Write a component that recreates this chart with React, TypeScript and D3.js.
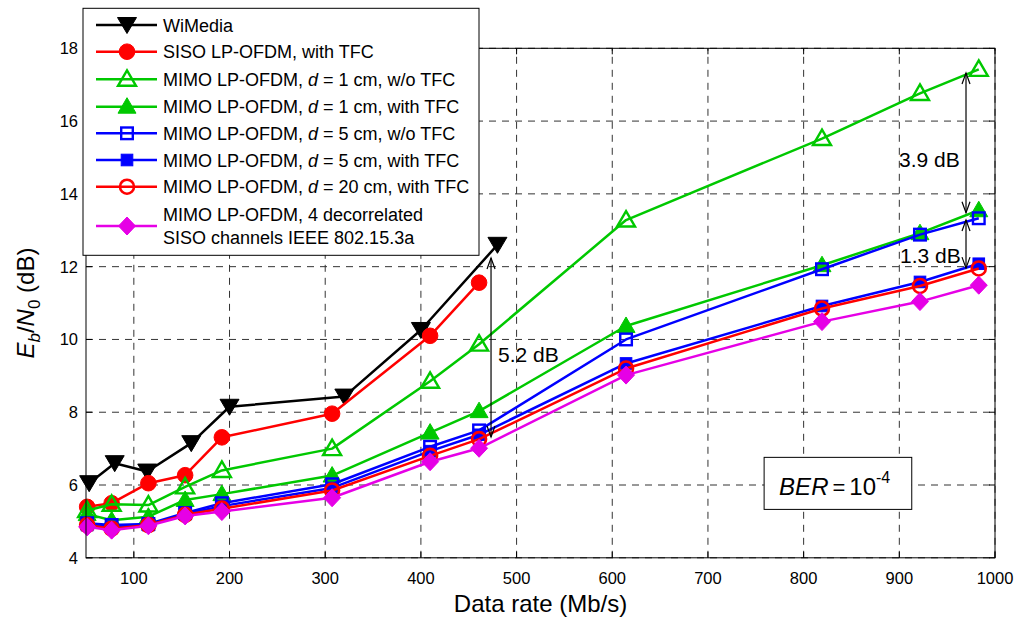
import React from "react";
import * as d3 from "d3";

const wimediaRates = [53.3, 80, 114, 160, 200, 320, 400, 480];
const wimedia = [6.05, 6.6, 6.37, 7.15, 8.15, 8.43, 10.26, 12.6];

const sisoRates = [51.2, 76.8, 115.2, 153.6, 192, 307.2, 409.6, 460.8];
const siso = [5.4, 5.5, 6.05, 6.27, 7.31, 7.96, 10.1, 11.56];

const mimoRates = [51.2, 76.8, 115.2, 153.6, 192, 307.2, 409.6, 460.8, 614.4, 819.2, 921.6, 983.04];
const mimo1NoTfc = [5.3, 5.47, 5.45, 5.95, 6.4, 7.0, 8.85, 9.87, 13.28, 15.52, 16.76, 17.42];
const mimo1Tfc = [5.2, 5.03, 5.13, 5.59, 5.75, 6.26, 7.44, 8.03, 10.37, 12.04, 12.92, 13.55];
const mimo5NoTfc = [4.95, 4.9, 4.93, 5.23, 5.5, 6.02, 7.05, 7.5, 10.0, 11.93, 12.88, 13.33];
const mimo5Tfc = [4.9, 4.85, 4.9, 5.2, 5.42, 5.92, 6.93, 7.38, 9.34, 10.92, 11.58, 12.08];
const mimo20Tfc = [4.9, 4.8, 4.9, 5.18, 5.35, 5.85, 6.8, 7.26, 9.2, 10.85, 11.47, 11.95];
const mimoDecorr = [4.85, 4.76, 4.88, 5.15, 5.27, 5.65, 6.64, 7.01, 9.02, 10.49, 11.04, 11.49];

const xTicks = [100, 200, 300, 400, 500, 600, 700, 800, 900, 1000];
const yTicks = [4, 6, 8, 10, 12, 14, 16, 18];

const annotations = [
  { x: 473.3, y1: 12.24, y2: 7.32, label: "5.2 dB", dx: 7, dy: 15 },
  { x: 969.7, y1: 17.32, y2: 13.48, label: "3.9 dB", dx: -67, dy: 24 },
  { x: 969.7, y1: 13.28, y2: 11.96, label: "1.3 dB", dx: -66, dy: 19 },
];

type MarkerKind = "tdown" | "circle" | "tup" | "square" | "diamond";

interface Series {
  name: string[];
  xs: number[];
  ys: number[];
  color: string;
  marker: MarkerKind;
  filled: boolean;
}

const FONT = "'Liberation Sans', Arial, Helvetica, sans-serif";

const GREEN = "#00c800";
const MAGENTA = "#e600e6";

const series: Series[] = [
  { name: ["WiMedia"], xs: wimediaRates, ys: wimedia, color: "#000000", marker: "tdown", filled: true },
  { name: ["SISO LP-OFDM, with TFC"], xs: sisoRates, ys: siso, color: "#ff0000", marker: "circle", filled: true },
  { name: ["MIMO LP-OFDM, ", "d", " = 1 cm, w/o TFC"], xs: mimoRates, ys: mimo1NoTfc, color: GREEN, marker: "tup", filled: false },
  { name: ["MIMO LP-OFDM, ", "d", " = 1 cm, with TFC"], xs: mimoRates, ys: mimo1Tfc, color: GREEN, marker: "tup", filled: true },
  { name: ["MIMO LP-OFDM, ", "d", " = 5 cm, w/o TFC"], xs: mimoRates, ys: mimo5NoTfc, color: "#0000ff", marker: "square", filled: false },
  { name: ["MIMO LP-OFDM, ", "d", " = 5 cm, with TFC"], xs: mimoRates, ys: mimo5Tfc, color: "#0000ff", marker: "square", filled: true },
  { name: ["MIMO LP-OFDM, ", "d", " = 20 cm, with TFC"], xs: mimoRates, ys: mimo20Tfc, color: "#ff0000", marker: "circle", filled: false },
  { name: ["MIMO LP-OFDM, 4 decorrelated", "SISO channels IEEE 802.15.3a"], xs: mimoRates, ys: mimoDecorr, color: MAGENTA, marker: "diamond", filled: true },
];

function Marker({ kind, x, y, color, filled }: { kind: MarkerKind; x: number; y: number; color: string; filled: boolean }) {
  const fill = filled ? color : "none";
  const sw = filled ? 1 : 2.4;
  switch (kind) {
    case "tdown":
      return <polygon points={`${x - 9.5},${y - 7.5} ${x + 9.5},${y - 7.5} ${x},${y + 8.5}`} fill={fill} stroke={color} strokeWidth={sw} />;
    case "tup":
      return <polygon points={`${x},${y - 9} ${x + 9},${y + 6.5} ${x - 9},${y + 6.5}`} fill={fill} stroke={color} strokeWidth={sw} />;
    case "circle":
      return <circle cx={x} cy={y} r={filled ? 7.8 : 7} fill={fill} stroke={color} strokeWidth={filled ? 1 : 2.6} />;
    case "square":
      return <rect x={x - 5.8} y={y - 5.8} width={11.6} height={11.6} fill={fill} stroke={color} strokeWidth={sw} />;
    case "diamond":
      return <polygon points={`${x},${y - 9} ${x + 8.5},${y} ${x},${y + 9} ${x - 8.5},${y}`} fill={fill} stroke={color} strokeWidth={sw} />;
  }
  return null;
}

export default function App() {
  const W = 1019;
  const H = 620;
  const left = 86;
  const right = 995;
  const top = 48.3;
  const bottom = 557.8;

  const x = d3.scaleLinear().domain([50, 1000]).range([left, right]);
  const y = d3.scaleLinear().domain([4, 18]).range([bottom, top]);

  const line = d3
    .line<[number, number]>()
    .x((d) => x(d[0]))
    .y((d) => y(d[1]));

  const tickLen = 6;
  const gridColor = "#333333";

  const legend = { x: 83, y: 8.3, w: 396, h: 247 };
  const rowY = [25, 51.7, 79.3, 106.7, 133.3, 160, 186.7, 226];

  const berX0 = x(758.7);
  const berX1 = x(913);
  const berY0 = y(6.76);
  const berY1 = y(5.33);

  const arrowHead = (ax: number, ay: number, dir: number) => (
    <path d={`M${ax - 4},${ay + dir * 11} L${ax},${ay} L${ax + 4},${ay + dir * 11}`} fill="none" stroke="#000" strokeWidth={1.2} />
  );

  return (
    <svg width={W} height={H} style={{ position: "absolute", left: 0, top: 0, background: "#fff" }} fontFamily={FONT}>
      <rect x={0} y={0} width={W} height={H} fill="#fff" />
      {/* grid */}
      <g stroke={gridColor} strokeWidth={1} strokeDasharray="7,6">
        {xTicks.map((t) => (
          <line key={"gx" + t} x1={x(t)} x2={x(t)} y1={bottom} y2={top} />
        ))}
        {yTicks.map((t) => (
          <line key={"gy" + t} x1={left} x2={right} y1={y(t)} y2={y(t)} />
        ))}
      </g>
      {/* ticks */}
      <g stroke="#000" strokeWidth={1}>
        {xTicks.map((t) => (
          <g key={"tx" + t}>
            <line x1={x(t)} x2={x(t)} y1={bottom} y2={bottom - tickLen} />
            <line x1={x(t)} x2={x(t)} y1={top} y2={top + tickLen} />
          </g>
        ))}
        {yTicks.map((t) => (
          <g key={"ty" + t}>
            <line x1={left} x2={left + tickLen} y1={y(t)} y2={y(t)} />
            <line x1={right} x2={right - tickLen} y1={y(t)} y2={y(t)} />
          </g>
        ))}
      </g>
      {/* tick labels */}
      <g fontSize={16.5} fill="#000">
        {xTicks.map((t) => (
          <text key={"lx" + t} x={x(t)} y={bottom + 26} textAnchor="middle">
            {t}
          </text>
        ))}
        {yTicks.map((t) => (
          <text key={"ly" + t} x={left - 8} y={y(t) + 6} textAnchor="end">
            {t}
          </text>
        ))}
      </g>
      {/* series */}
      {series.map((s, i) => {
        const pts: [number, number][] = s.xs.map((v, j) => [v, s.ys[j]]);
        return (
          <g key={"s" + i}>
            <path d={line(pts) || ""} fill="none" stroke={s.color} strokeWidth={2.5} strokeLinejoin="round" />
            {pts.map((p, j) => (
              <Marker key={j} kind={s.marker} x={x(p[0])} y={y(p[1])} color={s.color} filled={s.filled} />
            ))}
          </g>
        );
      })}
      {/* axes box */}
      <rect x={left} y={top} width={right - left} height={bottom - top} fill="none" stroke="#000" strokeWidth={1} />
      {/* annotations */}
      {annotations.map((a, i) => {
        const ax = x(a.x);
        const ay1 = y(a.y1);
        const ay2 = y(a.y2);
        return (
          <g key={"a" + i}>
            <line x1={ax} x2={ax} y1={ay1} y2={ay2} stroke="#000" strokeWidth={1.2} />
            {arrowHead(ax, ay1, 1)}
            {arrowHead(ax, ay2, -1)}
            <text x={ax + a.dx} y={(ay1 + ay2) / 2 + a.dy} fontSize={21} fill="#000">
              {a.label}
            </text>
          </g>
        );
      })}
      {/* BER box */}
      <rect x={berX0} y={berY0} width={berX1 - berX0} height={berY1 - berY0} fill="#fff" stroke="#000" strokeWidth={1} />
      <text x={berX0 + 15} y={berY0 + 38} fontSize={24} fill="#000">
        <tspan fontStyle="italic">BER</tspan>
        <tspan dx={4} fontSize={22}>=</tspan>
        <tspan dx={4}>10</tspan>
        <tspan dy={-12} fontSize={16}>-4</tspan>
      </text>
      {/* legend */}
      <rect x={legend.x} y={legend.y} width={legend.w} height={legend.h} fill="#fff" stroke="#000" strokeWidth={1} />
      {series.map((s, i) => {
        const ry = rowY[i];
        const multi = s.marker === "diamond";
        return (
          <g key={"lg" + i}>
            <line x1={96} x2={157} y1={ry} y2={ry} stroke={s.color} strokeWidth={2.5} />
            <Marker kind={s.marker} x={127} y={ry} color={s.color} filled={s.filled} />
            {multi ? (
              <text fontSize={18} fill="#000">
                <tspan x={163} y={ry - 5}>{s.name[0]}</tspan>
                <tspan x={163} y={ry + 18}>{s.name[1]}</tspan>
              </text>
            ) : (
              <text x={163} y={ry + 6.5} fontSize={18} fill="#000">
                {s.name.map((part, k) =>
                  k === 1 ? (
                    <tspan key={k} fontStyle="italic">{part}</tspan>
                  ) : (
                    <tspan key={k}>{part}</tspan>
                  )
                )}
              </text>
            )}
          </g>
        );
      })}
      {/* axis labels */}
      <text x={(left + right) / 2} y={612} textAnchor="middle" fontSize={24} fill="#000">
        Data rate (Mb/s)
      </text>
      <text transform={`translate(34, ${(top + bottom) / 2}) rotate(-90)`} textAnchor="middle" fontSize={24} fill="#000">
        <tspan fontStyle="italic">E</tspan>
        <tspan fontStyle="italic" fontSize={17} dy={6}>b</tspan>
        <tspan dy={-6}>/</tspan>
        <tspan fontStyle="italic">N</tspan>
        <tspan fontSize={17} dy={6}>0</tspan>
        <tspan dy={-6}> (dB)</tspan>
      </text>
    </svg>
  );
}
